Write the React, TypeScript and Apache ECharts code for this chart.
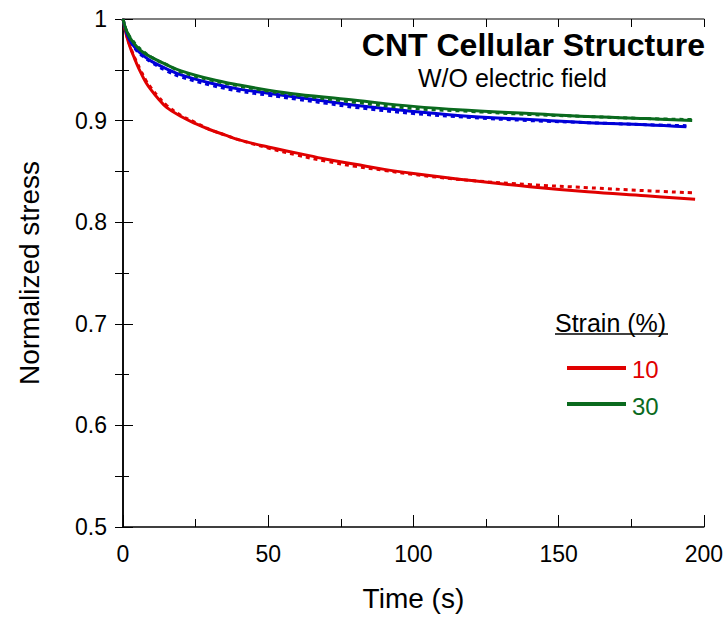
import React, { useEffect, useRef } from "react";
import * as echarts from "echarts";

const timeRed = [0, 1, 2, 3, 4, 5, 6, 8, 10, 12, 15, 20, 25, 30, 35, 40, 50, 60, 70, 80, 90, 100, 120, 140, 160, 180, 197];
const redFit = [1.0, 0.986, 0.976, 0.968, 0.961, 0.954, 0.948, 0.937, 0.929, 0.922, 0.913, 0.904, 0.897, 0.891, 0.886, 0.881, 0.874, 0.868, 0.862, 0.857, 0.852, 0.848, 0.841, 0.835, 0.83, 0.826, 0.8225];
const timeRedData = [0, 1, 2, 3, 4, 5, 6, 8, 10, 12, 15, 20, 25, 30, 35, 40, 50, 60, 70, 80, 90, 100, 120, 140, 160, 180, 196];
const redData = [1.0, 0.987, 0.977, 0.969, 0.962, 0.956, 0.95, 0.939, 0.931, 0.924, 0.915, 0.905, 0.898, 0.891, 0.886, 0.881, 0.873, 0.866, 0.86, 0.855, 0.851, 0.847, 0.841, 0.837, 0.834, 0.831, 0.829];

const timeBlue = [0, 1, 2, 3, 5, 7, 10, 15, 20, 30, 40, 50, 60, 70, 80, 100, 120, 140, 160, 180, 194];
const blueFit = [1.0, 0.988, 0.981, 0.976, 0.969, 0.964, 0.958, 0.951, 0.945, 0.937, 0.931, 0.927, 0.923, 0.919, 0.915, 0.909, 0.904, 0.901, 0.898, 0.896, 0.894];
const blueData = [1.0, 0.989, 0.981, 0.976, 0.968, 0.963, 0.957, 0.949, 0.943, 0.935, 0.929, 0.925, 0.921, 0.917, 0.913, 0.907, 0.903, 0.9, 0.898, 0.896, 0.895];

const timeGreen = [0, 1, 2, 3, 5, 7, 10, 15, 20, 30, 40, 50, 60, 80, 100, 120, 140, 160, 180, 196];
const greenFit = [1.0, 0.99, 0.984, 0.979, 0.972, 0.967, 0.962, 0.955, 0.949, 0.941, 0.935, 0.93, 0.926, 0.92, 0.914, 0.91, 0.907, 0.904, 0.902, 0.9];
const greenData = [1.0, 0.99, 0.984, 0.98, 0.973, 0.968, 0.962, 0.955, 0.948, 0.94, 0.934, 0.929, 0.925, 0.918, 0.912, 0.909, 0.906, 0.904, 0.902, 0.901];

const RED = "#e00000";
const BLUE = "#0000d8";
const GREEN = "#0a6a1e";
const FONT = "Liberation Sans, Arial, sans-serif";

function pairs(xs: number[], ys: number[]) {
  return xs.map((x, i) => [x, ys[i]]);
}

export default function App() {
  const ref = useRef<HTMLDivElement>(null);
  useEffect(() => {
    if (!ref.current) return;
    const chart = echarts.init(ref.current, null, { renderer: "svg" });
    const mainAxis = (majorLen: number, minorLen: number) => ({
      axisLine: { show: true, lineStyle: { color: "#000", width: 1.5 } },
      splitLine: { show: false },
      minorTick: { show: true, splitNumber: 2, length: minorLen, lineStyle: { color: "#000", width: 1 } },
      axisTick: { show: true, inside: true, length: majorLen, lineStyle: { color: "#000", width: 1 } },
      minorSplitLine: { show: false },
    });
    const line = (name: string, data: number[][], color: string, dashed: boolean, z: number) => ({
      name,
      type: "line",
      data,
      showSymbol: false,
      symbol: "none",
      smooth: 0.4,
      z,
      lineStyle: { color, width: 3, type: dashed ? [4, 4] : "solid" },
      silent: true,
    });
    chart.setOption({
      animation: false,
      backgroundColor: "#fff",
      grid: { left: 123, right: 18, top: 19, bottom: 91, containLabel: false },
      xAxis: [
        {
          type: "value",
          min: 0,
          max: 200,
          interval: 50,
          name: "Time (s)",
          nameLocation: "middle",
          nameGap: 57,
          nameTextStyle: { fontFamily: FONT, fontSize: 28, color: "#000" },
          axisLabel: { fontFamily: FONT, fontSize: 23, color: "#000", margin: 15, showMaxLabel: true },
          ...mainAxis(12, 8),
        },
        {
          type: "value",
          position: "top",
          min: 0,
          max: 200,
          interval: 50,
          axisLabel: { show: false },
          ...mainAxis(8, 8),
          axisLine: { show: true, lineStyle: { color: "#555", width: 1.5 } },
        },
      ],
      yAxis: [
        {
          type: "value",
          min: 0.5,
          max: 1,
          interval: 0.1,
          name: "Normalized stress",
          nameLocation: "middle",
          nameGap: 80,
          nameTextStyle: { fontFamily: FONT, fontSize: 28, color: "#000" },
          axisLabel: {
            fontFamily: FONT,
            fontSize: 23,
            color: "#000",
            margin: 16,
            formatter: (v: number) => String(Math.round(v * 10) / 10),
          },
          ...mainAxis(10, 6),
        },
        {
          type: "value",
          position: "right",
          min: 0.5,
          max: 1,
          interval: 0.1,
          axisLabel: { show: false },
          ...mainAxis(8, 8),
        },
      ],
      series: [
        line("10% fit", pairs(timeRed, redFit), RED, false, 3),
        line("10% data", pairs(timeRedData, redData), RED, true, 4),
        line("blue fit", pairs(timeBlue, blueFit), BLUE, false, 3),
        line("blue data", pairs(timeBlue, blueData), BLUE, true, 4),
        line("30% fit", pairs(timeGreen, greenFit), GREEN, false, 5),
        line("30% data", pairs(timeGreen, greenData), GREEN, true, 6),
      ],
      graphic: [
        {
          type: "text",
          right: 21,
          top: 29,
          style: { text: "CNT Cellular Structure", font: `bold 32px ${FONT}`, fill: "#000" },
        },
        {
          type: "text",
          left: 418,
          top: 65,
          style: { text: "W/O electric field", font: `25px ${FONT}`, fill: "#000" },
        },
        {
          type: "text",
          left: 555,
          top: 310,
          style: { text: "Strain (%)", font: `25px ${FONT}`, fill: "#000" },
        },
        { type: "line", shape: { x1: 555, y1: 334, x2: 668, y2: 334 }, style: { stroke: "#000", lineWidth: 1.5 } },
        { type: "line", shape: { x1: 567, y1: 368, x2: 626, y2: 368 }, style: { stroke: RED, lineWidth: 4 } },
        {
          type: "text",
          left: 632,
          top: 357,
          style: { text: "10", font: `24px ${FONT}`, fill: RED },
        },
        { type: "line", shape: { x1: 567, y1: 404, x2: 626, y2: 404 }, style: { stroke: GREEN, lineWidth: 4 } },
        {
          type: "text",
          left: 632,
          top: 394,
          style: { text: "30", font: `24px ${FONT}`, fill: GREEN },
        },
      ],
    });
    return () => chart.dispose();
  }, []);
  return <div ref={ref} style={{ position: "fixed", left: 0, top: 0, width: 726, height: 618 }} />;
}
